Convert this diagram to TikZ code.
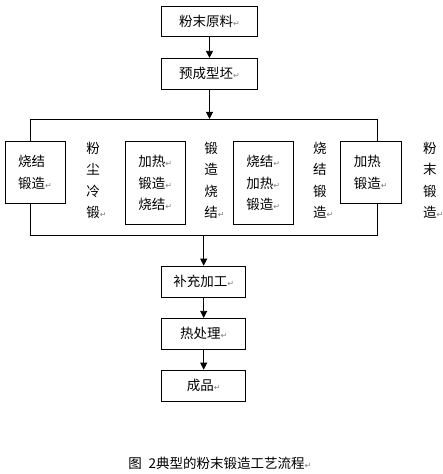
\documentclass[tikz,border=0pt]{standalone}
\usepackage{fontspec}
\newfontfamily\cjk{Noto Sans CJK SC}
\newfontfamily\dejavu{DejaVu Sans}
\usetikzlibrary{arrows.meta}
\newcommand{\pmark}{{\dejavu\color{gray}\fontsize{8}{8}\selectfont ↵}}
\tikzset{
	stepbox/.style={draw, fill=white, inner sep=0pt, align=left},
	flow/.style={-{Triangle[length=7pt,width=7pt]}},
	vtext/.style={anchor=north west, inner sep=0pt, align=left}
}
\begin{document}
\begin{tikzpicture}[x=1pt, y=-1pt, line width=0.8pt, font=\cjk\fontsize{13.5}{21.5}\selectfont]
	\useasboundingbox (0,0) rectangle (443,474);
	% outer frame of the forging routes
	\node[draw, minimum width=347.3pt, minimum height=115.7pt, inner sep=0pt] (frame) at (203.7,177.2) {};
	\node[stepbox, minimum width=95.6pt, minimum height=30.7pt] (raw) at (209.5,21.3) {粉末原料\pmark};
	\node[stepbox, minimum width=95.6pt, minimum height=31pt] (pre) at (209.5,73.8) {预成型坯\pmark};
	% routes
	\node[stepbox, minimum width=60pt, minimum height=61.6pt] (sf) at (35,172.5) {烧结\\锻造\pmark};
	\node[stepbox, minimum width=60.7pt, minimum height=82.6pt] (hfs) at (155.3,183) {加热\pmark\\锻造\pmark\\烧结\pmark};
	\node[stepbox, minimum width=60pt, minimum height=82.6pt] (shf) at (263.3,183) {烧结\pmark\\加热\pmark\\锻造\pmark};
	\node[stepbox, minimum width=60.3pt, minimum height=61.6pt] (hf) at (370.8,172.5) {加热\\锻造\pmark};
	\node[vtext] (cold) at (86,141.7) {粉\\尘\\冷\\锻\pmark};
	\node[vtext] (fsint) at (204,141.7) {锻\\造\\烧\\结\pmark};
	\node[vtext] (sforge) at (312.7,141.7) {烧\\结\\锻\\造\pmark};
	\node[vtext] (pforge) at (422.7,141.7) {粉\\末\\锻\\造\pmark};
	% finishing
	\node[stepbox, minimum width=84pt, minimum height=31.3pt] (add) at (203.7,281.7) {补充加工\pmark};
	\node[stepbox, minimum width=84pt, minimum height=31pt] (heat) at (203.7,333.8) {热处理\pmark};
	\node[stepbox, minimum width=84pt, minimum height=31.3pt] (prod) at (203.7,385.7) {成品\pmark};
	\draw[flow] (raw) -- (pre);
	\draw[flow] (pre) -- (pre |- frame.north);
	\draw[flow] (frame.south -| add) -- (add);
	\draw[flow] (add) -- (heat);
	\draw[flow] (heat) -- (prod);
	\node[anchor=west, inner sep=0pt] (cap) at (128,463.3) {图\hspace{0.5em}2典型的粉末锻造工艺流程\pmark};
\end{tikzpicture}
\end{document}
